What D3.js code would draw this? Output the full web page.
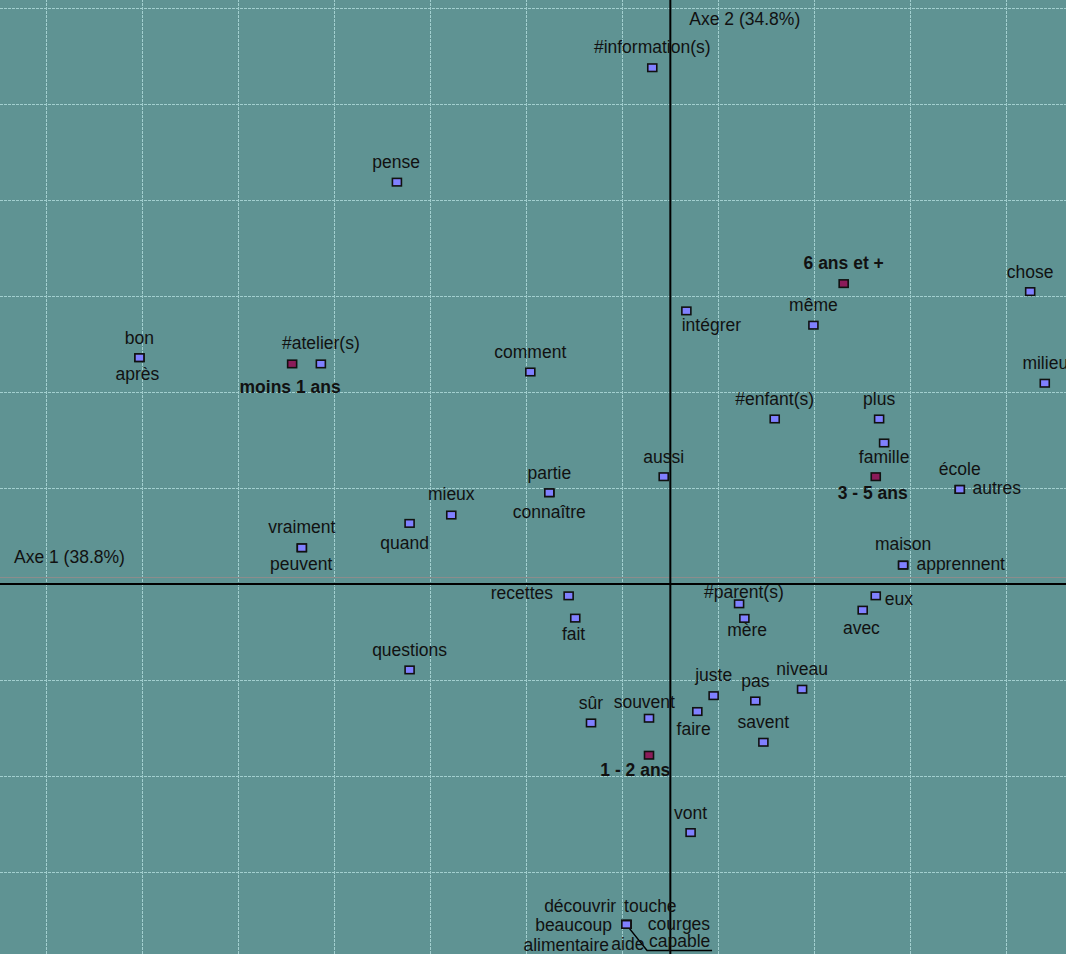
<!DOCTYPE html>
<html>
<head>
<meta charset="utf-8">
<script src="https://cdn.jsdelivr.net/npm/d3@7"></script>
<style>
  html, body { margin: 0; padding: 0; background: #5f9393; }
  svg { display: block; }
  text { font-family: "Liberation Sans", Arial, Helvetica, sans-serif; font-size: 17.5px; fill: #111; }
</style>
</head>
<body>
<svg id="chart" width="1066" height="954"></svg>
<script>
// ---------- DATA ----------
const axisTitles = ["Axe 1 (38.8%)", "Axe 2 (34.8%)"];

// categories (supplementary variable "ancienneté")
const categories = ["6 ans et +", "moins 1 ans", "3 - 5 ans", "1 - 2 ans"];
const catX = [0.1805, -0.3938, 0.2139, -0.0222];
const catY = [0.3128, 0.2292, 0.1118, -0.1781];

// words (active columns)
const words = ["#information(s)", "pense", "chose", "même", "intégrer", "bon", "après",
  "#atelier(s)", "comment", "milieu", "#enfant(s)", "plus", "famille", "aussi",
  "école", "autres", "partie", "connaître", "mieux", "quand", "vraiment", "peuvent",
  "maison", "apprennent", "recettes", "eux", "#parent(s)", "avec", "fait", "mère",
  "questions", "niveau", "juste", "pas", "faire", "souvent", "sûr", "savent", "vont",
  "découvrir", "touche", "beaucoup", "courges", "alimentaire", "aide", "capable"];
const wordX = [-0.0188, -0.2847, 0.3747, 0.1490, 0.0167, -0.5528, -0.5528,
  -0.3639, -0.1458, 0.3899, 0.1087, 0.2174, 0.2226, -0.0069,
  0.3014, 0.3014, -0.1260, -0.1260, -0.2281, -0.2715, -0.3837, -0.3837,
  0.2424, 0.2424, -0.1059, 0.2139, 0.0716, 0.2003, -0.0990, 0.0771,
  -0.2715, 0.1372, 0.0451, 0.0885, 0.0281, -0.0222, -0.0826, 0.0969, 0.0211,
  -0.0458, -0.0458, -0.0458, -0.0458, -0.0458, -0.0458, -0.0458];
const wordY = [0.5375, 0.4184, 0.3045, 0.2695, 0.2844, 0.2357, 0.2357,
  0.2292, 0.2208, 0.2091, 0.1719, 0.1719, 0.1469, 0.1118,
  0.0986, 0.0986, 0.0951, 0.0951, 0.0719, 0.0632, 0.0378, 0.0378,
  0.0198, 0.0198, -0.0122, -0.0122, -0.0205, -0.0271, -0.0354, -0.0357,
  -0.0893, -0.1094, -0.1161, -0.1216, -0.1326, -0.1396, -0.1445, -0.1646, -0.2586,
  -0.3542, -0.3542, -0.3542, -0.3542, -0.3542, -0.3542, -0.3542];

// grid tick values
const xGrid = [-0.65, -0.55, -0.45, -0.35, -0.25, -0.15, -0.05, 0.05, 0.15, 0.25, 0.35];
const yGrid = [-0.3, -0.2, -0.1, 0.1, 0.2, 0.3, 0.4, 0.5, 0.6];
const xDomain = [-0.698, 0.412];
const yDomain = [-0.385, 0.608];

// ---------- LABEL LAYOUT (repelled label offsets, px: dx, dy, anchor) ----------
const catLabelPos = [[0, -20.5, "middle"], [-2, 23.3, "middle"], [-3, 16.6, "middle"], [-13.7, 15, "middle"]];
const wordLabelPos = [
  [0, -21, "middle"], [-0.7, -20.3, "middle"], [0, -20, "middle"], [0, -20.3, "middle"], [25, 14, "middle"],
  [0, -20, "middle"], [-2, 16.6, "middle"],
  [0, -20.7, "middle"], [0, -20.3, "middle"], [0.5, -20, "middle"], [0, -20, "middle"], [0, -20, "middle"],
  [0, 13.7, "middle"], [0, -20, "middle"],
  [0, -20, "middle"], [12.7, -1, "start"], [0, -20, "middle"], [0, 19, "middle"], [0, -20.7, "middle"],
  [-5, 20, "middle"], [0, -20.4, "middle"], [-0.7, 16.6, "middle"],
  [0, -20.7, "middle"], [13.3, -0.7, "start"], [-15.6, -2.4, "end"], [9, 3.6, "start"],
  [4.8, -12, "middle"], [-1.3, 18.3, "middle"], [-1.7, 16, "middle"], [2.7, 11.7, "middle"],
  [0, -19.7, "middle"], [0, -20.3, "middle"], [0, -20.5, "middle"], [0, -20, "middle"],
  [-3.7, 17, "middle"], [-4.7, -16.3, "middle"], [0, -20.4, "middle"], [0, -20.7, "middle"], [0, -19.6, "middle"],
  [-46.2, -18.7, "middle"], [24, -18.7, "middle"], [-14.3, 0.5, "end"], [21.5, -0.3, "start"],
  [-17.3, 20.5, "end"], [1.5, 19.5, "middle"], [53.3, 16.3, "middle"]];

// ---------- CHART ----------
const W = 1066, H = 954;
const svg = d3.select("#chart");
const x = d3.scaleLinear().domain(xDomain).range([0, W]);
const y = d3.scaleLinear().domain(yDomain).range([H, 0]);

svg.append("rect").attr("width", W).attr("height", H).attr("fill", "#5f9393");

// grid via axes
const gx = svg.append("g").attr("transform", `translate(0,${H})`)
  .call(d3.axisBottom(x).tickValues(xGrid).tickSize(-H).tickFormat(""));
const gy = svg.append("g")
  .call(d3.axisLeft(y).tickValues(yGrid).tickSize(-W).tickFormat(""));
[gx, gy].forEach(g => {
  g.select(".domain").remove();
  g.selectAll(".tick line").attr("stroke", "#a2cfcf").attr("stroke-width", 1)
    .attr("stroke-dasharray", "3,1").attr("shape-rendering", "crispEdges");
});

// faint reference line just above the horizontal axis
svg.append("line").attr("x1", 0).attr("x2", W)
  .attr("y1", Math.round(y(0.0078)) + 0.5).attr("y2", Math.round(y(0.0078)) + 0.5)
  .attr("stroke", "#8c8c8c").attr("stroke-width", 1);

// axes through origin
svg.append("line").attr("x1", 0).attr("x2", W).attr("y1", y(0)).attr("y2", y(0))
  .attr("stroke", "#000").attr("stroke-width", 2);
svg.append("line").attr("x1", x(0)).attr("x2", x(0)).attr("y1", 0).attr("y2", H)
  .attr("stroke", "#000").attr("stroke-width", 2);

svg.append("text").attr("x", 14).attr("y", y(0) - 27 + 6).text(axisTitles[0]);
svg.append("text").attr("x", x(0) + 19).attr("y", 19 + 6).text(axisTitles[1]);

// leader line for "capable"
const ci = words.indexOf("capable");
const cxp = x(wordX[ci]), cyp = y(wordY[ci]);
svg.append("path")
  .attr("d", `M${cxp + 2},${cyp + 2.7} L${cxp + 20.7},${cyp + 26} L${cxp + 85.7},${cyp + 26}`)
  .attr("fill", "none").attr("stroke", "#000").attr("stroke-width", 1.5);

// word markers
const wordData = words.map((w, i) => ({ w, x: wordX[i], y: wordY[i], p: wordLabelPos[i] }));
const catData = categories.map((c, i) => ({ w: c, x: catX[i], y: catY[i], p: catLabelPos[i] }));

const MW = 9, MH = 7.5;
svg.append("g").selectAll("rect").data(wordData).join("rect")
  .attr("x", d => x(d.x) - MW / 2).attr("y", d => y(d.y) - MH / 2)
  .attr("width", MW).attr("height", MH)
  .attr("fill", "#8080ff").attr("stroke", "#111").attr("stroke-width", 1.6);
svg.append("g").selectAll("rect").data(catData).join("rect")
  .attr("x", d => x(d.x) - MW / 2).attr("y", d => y(d.y) - MH / 2)
  .attr("width", MW).attr("height", MH)
  .attr("fill", "#8b1c5a").attr("stroke", "#111").attr("stroke-width", 1.6);

// labels
svg.append("g").selectAll("text").data(wordData).join("text")
  .attr("x", d => x(d.x) + d.p[0]).attr("y", d => y(d.y) + d.p[1] + 6)
  .attr("text-anchor", d => d.p[2]).text(d => d.w);
svg.append("g").selectAll("text").data(catData).join("text")
  .attr("x", d => x(d.x) + d.p[0]).attr("y", d => y(d.y) + d.p[1] + 6)
  .attr("text-anchor", d => d.p[2]).attr("font-weight", "bold").text(d => d.w);
</script>
</body>
</html>
